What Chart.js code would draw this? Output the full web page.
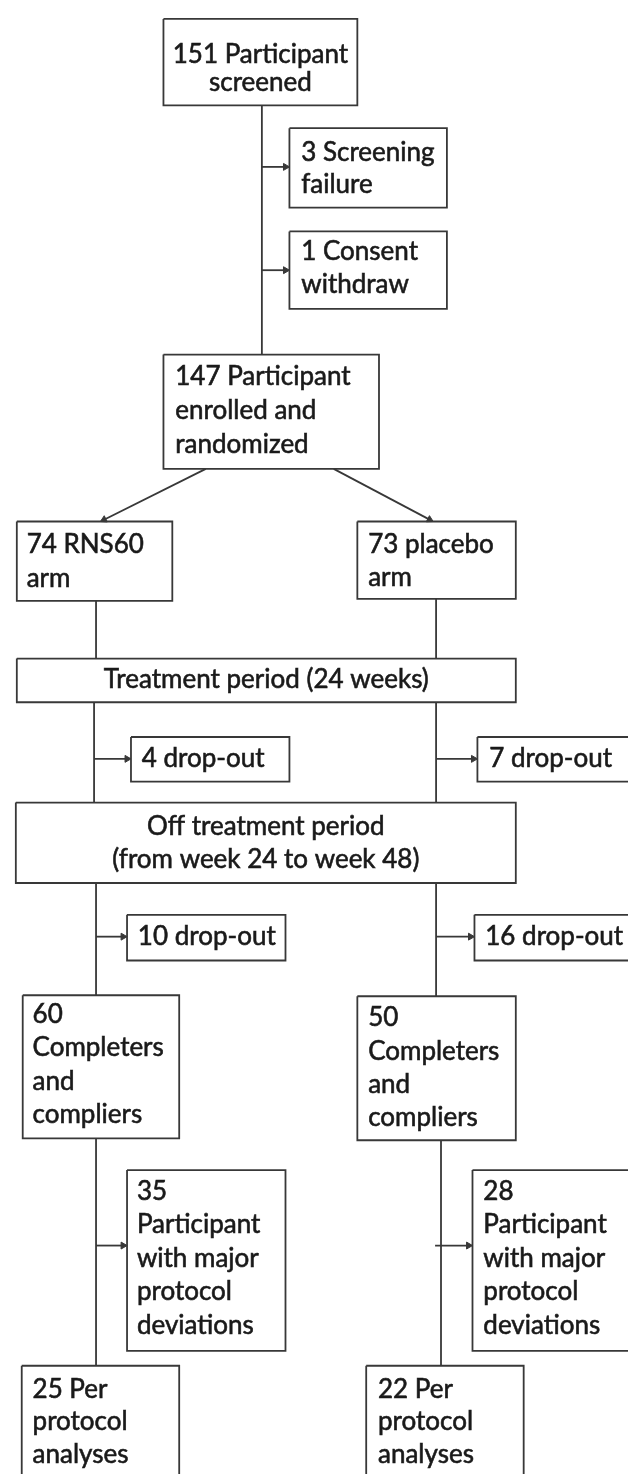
<!DOCTYPE html>
<html>
<head>
<meta charset="utf-8">
<script src="https://cdn.jsdelivr.net/npm/chart.js@4.4.1/dist/chart.umd.min.js"></script>
<style>
  html, body { margin: 0; padding: 0; background: #fff; }
  #flow { display: block; }
</style>
</head>
<body>
<canvas id="flow" width="633" height="1479"></canvas>
<script>
// box texts (one entry per line)
const boxText = [
    ["151 Participant", "screened"],
    ["3 Screening", "failure"],
    ["1 Consent", "withdraw"],
    ["147 Participant", "enrolled and", "randomized"],
    ["74 RNS60", "arm"],
    ["73 placebo", "arm"],
    ["Treatment period (24 weeks)"],
    ["4 drop-out"],
    ["7 drop-out"],
    ["Off treatment period", "(from week 24 to week 48)"],
    ["10 drop-out"],
    ["16 drop-out"],
    ["60", "Completers", "and", "compliers"],
    ["50", "Completers", "and", "compliers"],
    ["35", "Participant", "with major", "protocol", "deviations"],
    ["28", "Participant", "with major", "protocol", "deviations"],
    ["25 Per", "protocol", "analyses"],
    ["22 Per", "protocol", "analyses"]
];

// layout in chart units: [left, top, right, bottom]
const boxFrames = [
    [161, 14, 358, 101],
    [289, 124, 449, 204],
    [289, 228, 449, 306],
    [161, 352, 380, 467],
    [12, 520, 170, 600],
    [358, 520, 519, 598],
    [12, 658, 519, 702],
    [128, 737, 289, 782],
    [480, 737, 650, 782],
    [11, 803, 519, 884],
    [124, 916, 285, 962],
    [477, 916, 650, 962],
    [18, 997, 177, 1141],
    [358, 998, 519, 1143],
    [124, 1173, 285, 1355],
    [475, 1173, 650, 1355],
    [17, 1370, 177, 1500],
    [367, 1370, 527, 1500]
];

// text anchor: [left x (null = centred), first baseline, line gap]
const textAnchor = [
    [null, 58, 29],
    [301, 157, 32],
    [301, 257, 33],
    [173, 383, 34],
    [22, 552, 34],
    [369, 552, 33],
    [null, 688, 0],
    [139, 767, 0],
    [492, 767, 0],
    [null, 836, 33],
    [135, 946, 0],
    [488, 946, 0],
    [28, 1025, 33.5],
    [369, 1028, 33.7],
    [134, 1203, 33.7],
    [486, 1203, 33.7],
    [28, 1402, 33],
    [379, 1402, 33]
];

// connectors: [x0, y0, x1, y1, arrow]
const links = [
    [261, 101, 261, 352, 0],
    [261, 163, 289, 163, 1],
    [261, 267, 289, 267, 1],
    [204, 467, 97, 520, 1],
    [334, 467, 435, 520, 1],
    [92.5, 600, 92.5, 658, 0],
    [438, 598, 438, 658, 0],
    [90.5, 702, 90.5, 803, 0],
    [438, 702, 438, 803, 0],
    [90.5, 759, 128, 759, 1],
    [438, 759, 480, 759, 1],
    [92.5, 884, 92.5, 997, 0],
    [438, 884, 438, 998, 0],
    [92.5, 938, 124, 938, 1],
    [438, 938, 477, 938, 1],
    [92.5, 1141, 92.5, 1370, 0],
    [443, 1143, 443, 1370, 0],
    [92.5, 1249, 124, 1249, 1],
    [437, 1249, 475, 1249, 1]
];

const LINE = "#383838";
const INK = "#1a1a1a";
const FONT = "26px Lato";
const HEAD = 4;

const datasets = [];

boxFrames.forEach(b => {
    datasets.push({
        data: [
            { x: b[0], y: b[1] }, { x: b[2], y: b[1] },
            { x: b[2], y: b[3] }, { x: b[0], y: b[3] },
            { x: b[0], y: b[1] }
        ],
        showLine: true,
        borderColor: LINE,
        borderWidth: 1.8,
        pointRadius: 0,
        fill: false
    });
});

links.forEach(l => {
    let [x0, y0, x1, y1, arrow] = l;
    let rot = 0;
    if (arrow) {
        const dx = x1 - x0, dy = y1 - y0;
        const len = Math.hypot(dx, dy);
        // pull the triangle centre back so its tip touches the box
        x1 -= dx / len * HEAD;
        y1 -= dy / len * HEAD;
        rot = Math.atan2(dx, -dy) * 180 / Math.PI;
    }
    datasets.push({
        data: [{ x: x0, y: y0 }, { x: x1, y: y1 }],
        showLine: true,
        borderColor: LINE,
        borderWidth: 1.8,
        pointStyle: "triangle",
        pointRadius: [0, arrow ? HEAD : 0],
        pointRotation: [0, rot],
        pointBackgroundColor: LINE,
        pointBorderColor: LINE,
        pointBorderWidth: 1,
        fill: false
    });
});

const boxLabels = {
    id: "boxLabels",
    afterDatasetsDraw(chart) {
        const { ctx, scales } = chart;
        ctx.save();
        ctx.font = FONT;
        ctx.fillStyle = INK;
        ctx.strokeStyle = INK;
        ctx.lineWidth = 0.6;
        ctx.textBaseline = "alphabetic";
        boxText.forEach((lines, i) => {
            const [tx, base, gap] = textAnchor[i];
            const b = boxFrames[i];
            lines.forEach((t, k) => {
                const y = scales.y.getPixelForValue(base + k * gap);
                let x;
                if (tx === null) {
                    ctx.textAlign = "center";
                    x = scales.x.getPixelForValue((b[0] + b[2]) / 2);
                } else {
                    ctx.textAlign = "left";
                    x = scales.x.getPixelForValue(tx);
                }
                ctx.fillText(t, x, y);
                ctx.strokeText(t, x, y);
            });
        });
        ctx.restore();
    }
};

new Chart(document.getElementById("flow"), {
    type: "scatter",
    data: { datasets },
    options: {
        responsive: false,
        animation: false,
        devicePixelRatio: 1,
        layout: { padding: 0 },
        plugins: { legend: { display: false }, tooltip: { enabled: false } },
        scales: {
            x: { type: "linear", min: 0, max: 633, display: false },
            y: { type: "linear", min: 0, max: 1479, reverse: true, display: false }
        }
    },
    plugins: [boxLabels]
});
</script>
</body>
</html>
